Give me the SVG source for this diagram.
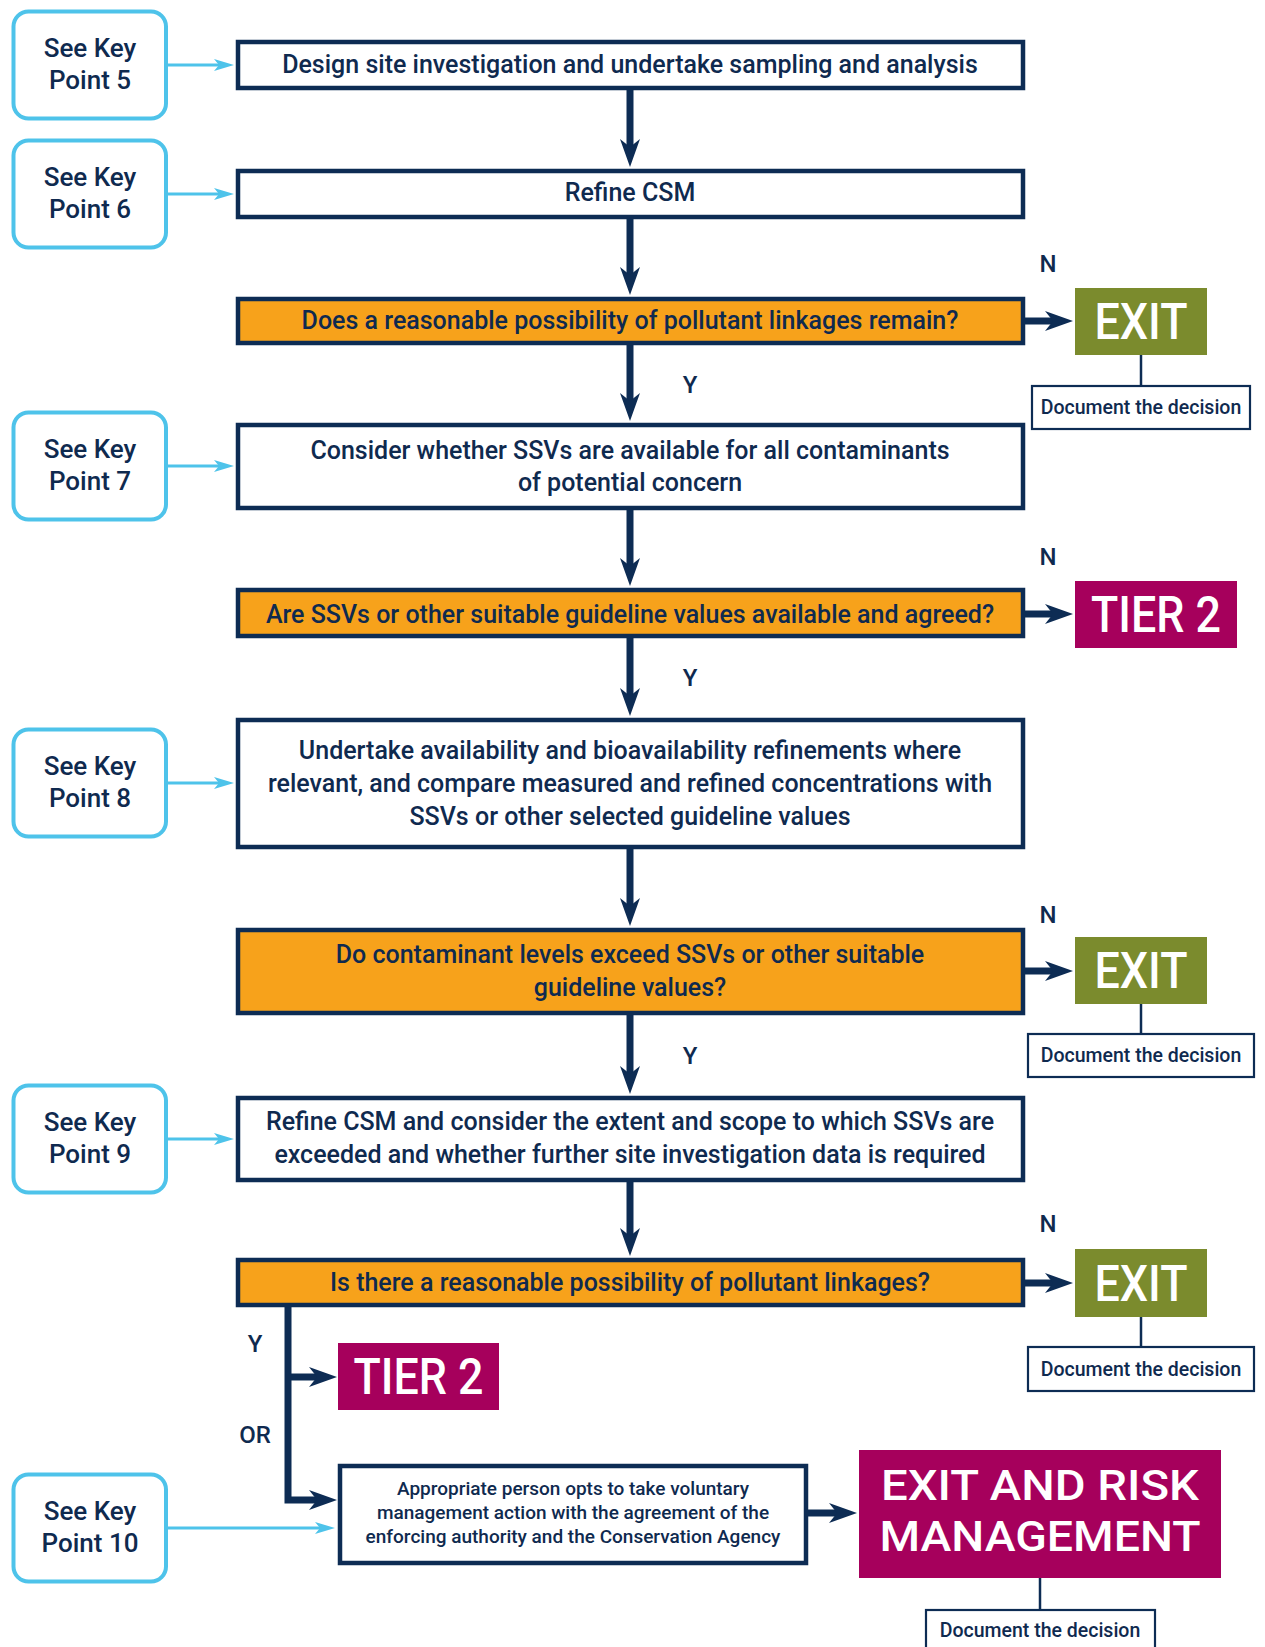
<svg xmlns="http://www.w3.org/2000/svg" width="1265" height="1647" viewBox="0 0 1265 1647">
<defs>
<style>
.box{fill:#ffffff;stroke:#0d2c54;stroke-width:4.5}
.dec{fill:#f7a21b;stroke:#0d2c54;stroke-width:4.5}
.key{fill:#ffffff;stroke:#4ec3ea;stroke-width:4}
.doc{fill:#ffffff;stroke:#0d2c54;stroke-width:2.2}
.exit{fill:#7b8b2d}
.tier{fill:#a6005c}
.t{font-family:Roboto,"Liberation Sans",sans-serif;font-weight:500;font-size:25px;fill:#0f2a4f;text-anchor:middle}
.kt{font-family:Roboto,"Liberation Sans",sans-serif;font-weight:500;font-size:26px;fill:#0f2a4f;text-anchor:middle}
.dt{font-family:Roboto,"Liberation Sans",sans-serif;font-weight:500;font-size:19.5px;fill:#0f2a4f;text-anchor:middle}
.vt{font-family:Roboto,"Liberation Sans",sans-serif;font-weight:500;font-size:19px;fill:#0f2a4f;text-anchor:middle}
.lb{font-family:Roboto,"Liberation Sans",sans-serif;font-weight:500;font-size:24px;fill:#0f2a4f;text-anchor:middle}
.big{font-family:Roboto,"Liberation Sans",sans-serif;font-weight:500;font-size:50px;fill:#ffffff;text-anchor:middle}
.bigm{font-family:Roboto,"Liberation Sans",sans-serif;font-weight:500;font-size:43px;fill:#ffffff;text-anchor:middle}
.nav{fill:none;stroke:#0d2c54;stroke-width:7;marker-end:url(#ah)}
.blu{fill:none;stroke:#4ec3ea;stroke-width:3;marker-end:url(#bh)}
.thin{fill:none;stroke:#0d2c54;stroke-width:2.5}
</style>
<marker id="ah" markerUnits="userSpaceOnUse" viewBox="0 0 28 20" markerWidth="28" markerHeight="20" refX="10" refY="10" orient="auto">
<path d="M0,0 L28,10 L0,20 L8,10 Z" fill="#0d2c54"/>
</marker>
<marker id="bh" markerUnits="userSpaceOnUse" viewBox="0 0 20 12" markerWidth="20" markerHeight="12" refX="8" refY="6" orient="auto">
<path d="M0,0 L20,6 L0,12 L5,6 Z" fill="#4ec3ea"/>
</marker>
</defs>
<rect width="1265" height="1647" fill="#ffffff"/>

<g id="connectors">
<line class="nav" x1="630" y1="90" x2="630" y2="149"/>
<line class="nav" x1="630" y1="219" x2="630" y2="277"/>
<line class="nav" x1="630" y1="345" x2="630" y2="403"/>
<line class="nav" x1="630" y1="510" x2="630" y2="568"/>
<line class="nav" x1="630" y1="638" x2="630" y2="698"/>
<line class="nav" x1="630" y1="849" x2="630" y2="908"/>
<line class="nav" x1="630" y1="1015" x2="630" y2="1076"/>
<line class="nav" x1="630" y1="1182" x2="630" y2="1238"/>
<line class="nav" x1="1025" y1="321" x2="1055" y2="321"/>
<line class="nav" x1="1025" y1="614" x2="1055" y2="614"/>
<line class="nav" x1="1025" y1="971" x2="1055" y2="971"/>
<line class="nav" x1="1025" y1="1283" x2="1055" y2="1283"/>
<path class="nav" d="M288,1307 V1500 H319" stroke-linejoin="miter"/>
<line class="nav" x1="288" y1="1377" x2="319" y2="1377"/>
<line class="nav" x1="808" y1="1513" x2="839" y2="1513"/>
<line class="blu" x1="168" y1="65" x2="222" y2="65"/>
<line class="blu" x1="168" y1="194" x2="222" y2="194"/>
<line class="blu" x1="168" y1="466" x2="222" y2="466"/>
<line class="blu" x1="168" y1="783" x2="222" y2="783"/>
<line class="blu" x1="168" y1="1139" x2="222" y2="1139"/>
<line class="blu" x1="168" y1="1528" x2="323" y2="1528"/>
<line class="thin" x1="1141" y1="355" x2="1141" y2="386"/>
<line class="thin" x1="1141" y1="1004" x2="1141" y2="1034"/>
<line class="thin" x1="1141" y1="1317" x2="1141" y2="1347"/>
<line class="thin" x1="1040" y1="1578" x2="1040" y2="1610"/>
</g>

<g id="key5"><rect class="key" x="13.5" y="11.5" width="152.5" height="107" rx="15"/><text class="kt" x="90" y="57">See Key</text><text class="kt" x="90" y="89">Point 5</text></g>
<g id="key6"><rect class="key" x="13.5" y="140.5" width="152.5" height="107" rx="15"/><text class="kt" x="90" y="186">See Key</text><text class="kt" x="90" y="218">Point 6</text></g>
<g id="key7"><rect class="key" x="13.5" y="412.5" width="152.5" height="107" rx="15"/><text class="kt" x="90" y="458">See Key</text><text class="kt" x="90" y="490">Point 7</text></g>
<g id="key8"><rect class="key" x="13.5" y="729.5" width="152.5" height="107" rx="15"/><text class="kt" x="90" y="775">See Key</text><text class="kt" x="90" y="807">Point 8</text></g>
<g id="key9"><rect class="key" x="13.5" y="1085.5" width="152.5" height="107" rx="15"/><text class="kt" x="90" y="1131">See Key</text><text class="kt" x="90" y="1163">Point 9</text></g>
<g id="key10"><rect class="key" x="13.5" y="1474.5" width="152.5" height="107" rx="15"/><text class="kt" x="90" y="1520">See Key</text><text class="kt" x="90" y="1552">Point 10</text></g>

<g id="box1"><rect class="box" x="238" y="42" width="785" height="46"/><text class="t" x="630" y="73">Design site investigation and undertake sampling and analysis</text></g>
<g id="box2"><rect class="box" x="238" y="171" width="785" height="46"/><text class="t" x="630" y="201">Refine CSM</text></g>
<g id="dec1"><rect class="dec" x="238" y="299" width="785" height="44"/><text class="t" x="630" y="329">Does a reasonable possibility of pollutant linkages remain?</text></g>
<g id="box3"><rect class="box" x="238" y="425" width="785" height="83"/><text class="t" x="630" y="459">Consider whether SSVs are available for all contaminants</text><text class="t" x="630" y="491">of potential concern</text></g>
<g id="dec2"><rect class="dec" x="238" y="590" width="785" height="46"/><text class="t" x="630" y="623">Are SSVs or other suitable guideline values available and agreed?</text></g>
<g id="box4"><rect class="box" x="238" y="720" width="785" height="127"/><text class="t" x="630" y="759">Undertake availability and bioavailability refinements where</text><text class="t" x="630" y="792">relevant, and compare measured and refined concentrations with</text><text class="t" x="630" y="825">SSVs or other selected guideline values</text></g>
<g id="dec3"><rect class="dec" x="238" y="930" width="785" height="83"/><text class="t" x="630" y="963">Do contaminant levels exceed SSVs or other suitable</text><text class="t" x="630" y="996">guideline values?</text></g>
<g id="box5"><rect class="box" x="238" y="1098" width="785" height="82"/><text class="t" x="630" y="1130">Refine CSM and consider the extent and scope to which SSVs are</text><text class="t" x="630" y="1163">exceeded and whether further site investigation data is required</text></g>
<g id="dec4"><rect class="dec" x="238" y="1260" width="785" height="45"/><text class="t" x="630" y="1291">Is there a reasonable possibility of pollutant linkages?</text></g>

<g id="exit1"><rect class="exit" x="1075" y="288" width="132" height="67"/><text class="big" x="1141" y="339" textLength="93" lengthAdjust="spacingAndGlyphs">EXIT</text></g>
<g id="doc1"><rect class="doc" x="1032" y="386" width="218" height="43"/><text class="dt" x="1141" y="414">Document the decision</text></g>
<g id="tier2a"><rect class="tier" x="1075" y="581" width="162" height="67"/><text class="big" x="1156" y="632" textLength="130" lengthAdjust="spacingAndGlyphs">TIER 2</text></g>
<g id="exit2"><rect class="exit" x="1075" y="937" width="132" height="67"/><text class="big" x="1141" y="988" textLength="93" lengthAdjust="spacingAndGlyphs">EXIT</text></g>
<g id="doc2"><rect class="doc" x="1028" y="1034" width="226" height="43"/><text class="dt" x="1141" y="1062">Document the decision</text></g>
<g id="exit3"><rect class="exit" x="1075" y="1249" width="132" height="68"/><text class="big" x="1141" y="1301" textLength="93" lengthAdjust="spacingAndGlyphs">EXIT</text></g>
<g id="doc3"><rect class="doc" x="1028" y="1347" width="226" height="44"/><text class="dt" x="1141" y="1376">Document the decision</text></g>

<g id="labels">
<text class="lb" x="1048" y="272">N</text>
<text class="lb" x="690" y="393">Y</text>
<text class="lb" x="1048" y="565">N</text>
<text class="lb" x="690" y="686">Y</text>
<text class="lb" x="1048" y="923">N</text>
<text class="lb" x="690" y="1064">Y</text>
<text class="lb" x="1048" y="1232">N</text>
<text class="lb" x="255" y="1352">Y</text>
<text class="lb" x="255" y="1443">OR</text>
</g>

<g id="tier2b"><rect class="tier" x="338" y="1343" width="161" height="67"/><text class="big" x="418.5" y="1394" textLength="130" lengthAdjust="spacingAndGlyphs">TIER 2</text></g>
<g id="voluntary"><rect class="box" x="340" y="1466" width="466" height="97"/><text class="vt" x="573" y="1495">Appropriate person opts to take voluntary</text><text class="vt" x="573" y="1519">management action with the agreement of the</text><text class="vt" x="573" y="1543">enforcing authority and the Conservation Agency</text></g>
<g id="exitrisk"><rect class="tier" x="859" y="1450" width="362" height="128"/><text class="bigm" x="1040" y="1500" textLength="318" lengthAdjust="spacingAndGlyphs">EXIT AND RISK</text><text class="bigm" x="1040" y="1551" textLength="321" lengthAdjust="spacingAndGlyphs">MANAGEMENT</text></g>
<g id="doc4"><rect class="doc" x="926" y="1610" width="229" height="44"/><text class="dt" x="1040" y="1637">Document the decision</text></g>
</svg>
